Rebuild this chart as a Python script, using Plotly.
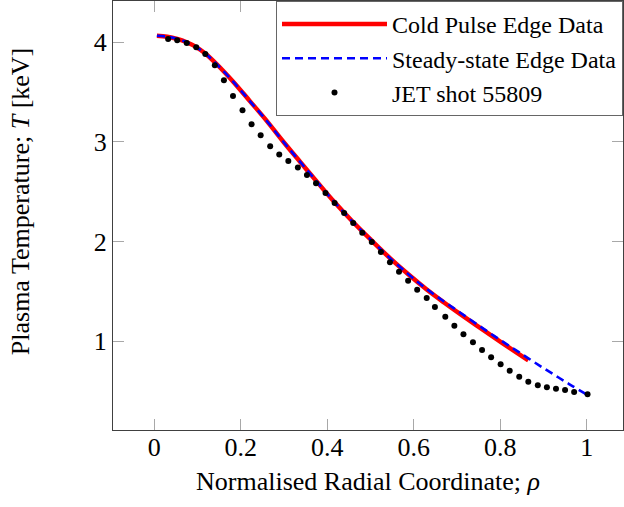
import plotly.graph_objects as go

# Cold pulse edge data (red solid)
rho_cold = [0.006, 0.03, 0.053, 0.075, 0.097, 0.118, 0.144, 0.183, 0.221, 0.260,
            0.298, 0.337, 0.376, 0.416, 0.459, 0.503, 0.545, 0.588, 0.630, 0.670,
            0.707, 0.745, 0.784, 0.825, 0.865]
T_cold = [4.066, 4.056, 4.034, 4.000, 3.952, 3.888, 3.782, 3.602, 3.410, 3.212,
          3.005, 2.802, 2.602, 2.40, 2.20, 2.01, 1.835, 1.67, 1.52, 1.39,
          1.275, 1.16, 1.045, 0.925, 0.81]

# Steady-state edge data (blue dashed)
rho_ss = [0.006, 0.03, 0.053, 0.075, 0.097, 0.118, 0.144, 0.183, 0.221, 0.260,
          0.298, 0.337, 0.376, 0.416, 0.459, 0.503, 0.545, 0.588, 0.630, 0.670,
          0.707, 0.745, 0.784, 0.825, 0.865, 0.900, 0.934, 0.967, 1.0]
T_ss = [4.066, 4.056, 4.034, 4.000, 3.952, 3.888, 3.782, 3.602, 3.410, 3.212,
        3.005, 2.802, 2.602, 2.40, 2.20, 2.01, 1.835, 1.672, 1.525, 1.40,
        1.29, 1.175, 1.06, 0.943, 0.83, 0.732, 0.64, 0.552, 0.467]

# JET shot 55809 (black dots)
rho_jet = [0.032, 0.053, 0.075, 0.097, 0.118, 0.140, 0.161, 0.182, 0.204, 0.225,
           0.246, 0.268, 0.289, 0.310, 0.332, 0.353, 0.374, 0.396, 0.417, 0.439,
           0.460, 0.481, 0.503, 0.524, 0.545, 0.566, 0.587, 0.608, 0.630, 0.649,
           0.673, 0.694, 0.715, 0.737, 0.758, 0.779, 0.801, 0.822, 0.844, 0.865,
           0.887, 0.908, 0.929, 0.950, 0.971, 1.002]
T_jet = [4.033, 4.020, 3.993, 3.950, 3.883, 3.770, 3.619, 3.462, 3.318, 3.178,
         3.068, 2.958, 2.874, 2.808, 2.744, 2.669, 2.586, 2.489, 2.388, 2.288,
         2.188, 2.090, 1.997, 1.897, 1.793, 1.699, 1.609, 1.519, 1.435, 1.345,
         1.248, 1.157, 1.071, 0.991, 0.914, 0.841, 0.770, 0.706, 0.646, 0.596,
         0.560, 0.540, 0.526, 0.513, 0.493, 0.469]

x_ticks = [0, 0.2, 0.4, 0.6, 0.8, 1]
x_ticklabels = ["0", "0.2", "0.4", "0.6", "0.8", "1"]
y_ticks = [1, 2, 3, 4]
y_ticklabels = ["1", "2", "3", "4"]

FONT = "Liberation Serif"
FS = 26
LEG_FS = 24

fig = go.Figure()
fig.add_trace(go.Scatter(x=rho_cold, y=T_cold, mode="lines", name="Cold Pulse Edge Data",
                         line=dict(color="#ff0000", width=4.5), line_shape="spline"))
fig.add_trace(go.Scatter(x=rho_ss, y=T_ss, mode="lines", name="Steady-state Edge Data",
                         line=dict(color="#0000ff", width=2.6, dash="8px,5px"), line_shape="spline"))
fig.add_trace(go.Scatter(x=rho_jet, y=T_jet, mode="markers", name="JET shot 55809",
                         marker=dict(color="black", size=6)))

axis_common = dict(
    showline=True, linecolor="#404040", linewidth=1.3, mirror="allticks",
    ticks="inside", ticklen=11, tickcolor="#a8a8a8", tickwidth=1,
    showgrid=False, zeroline=False, automargin=False,
    tickfont=dict(family=FONT, size=FS, color="black"),
)

fig.update_layout(
    width=624, height=507,
    margin=dict(l=113, r=1, t=1, b=77),
    paper_bgcolor="white", plot_bgcolor="white",
    font=dict(family=FONT, size=FS, color="black"),
    xaxis=dict(range=[-0.0955, 1.084], tickvals=x_ticks, ticktext=x_ticklabels,
               ticklabelstandoff=-6,
               title=dict(text="Normalised Radial Coordinate; <i>ρ</i>", standoff=10,
                          font=dict(family=FONT, size=FS)),
               **axis_common),
    yaxis=dict(range=[0.111, 4.414], tickvals=y_ticks, ticktext=y_ticklabels,
               **axis_common),
    legend=dict(x=1, xanchor="right", y=1, yanchor="top",
                bordercolor="#666666", borderwidth=1, bgcolor="white",
                font=dict(family=FONT, size=LEG_FS), itemwidth=105,
                tracegroupgap=0),
    showlegend=True,
    annotations=[dict(text="Plasma Temperature; <i>T</i> [keV]", textangle=-90,
                      xref="paper", yref="paper", x=0, y=0.531,
                      xanchor="center", yanchor="middle", xshift=-93,
                      showarrow=False, font=dict(family=FONT, size=FS))],
)

fig.write_html("out.html",
               config={"displayModeBar": False},
               post_script="document.body.style.margin='0';document.body.style.overflow='hidden';")
